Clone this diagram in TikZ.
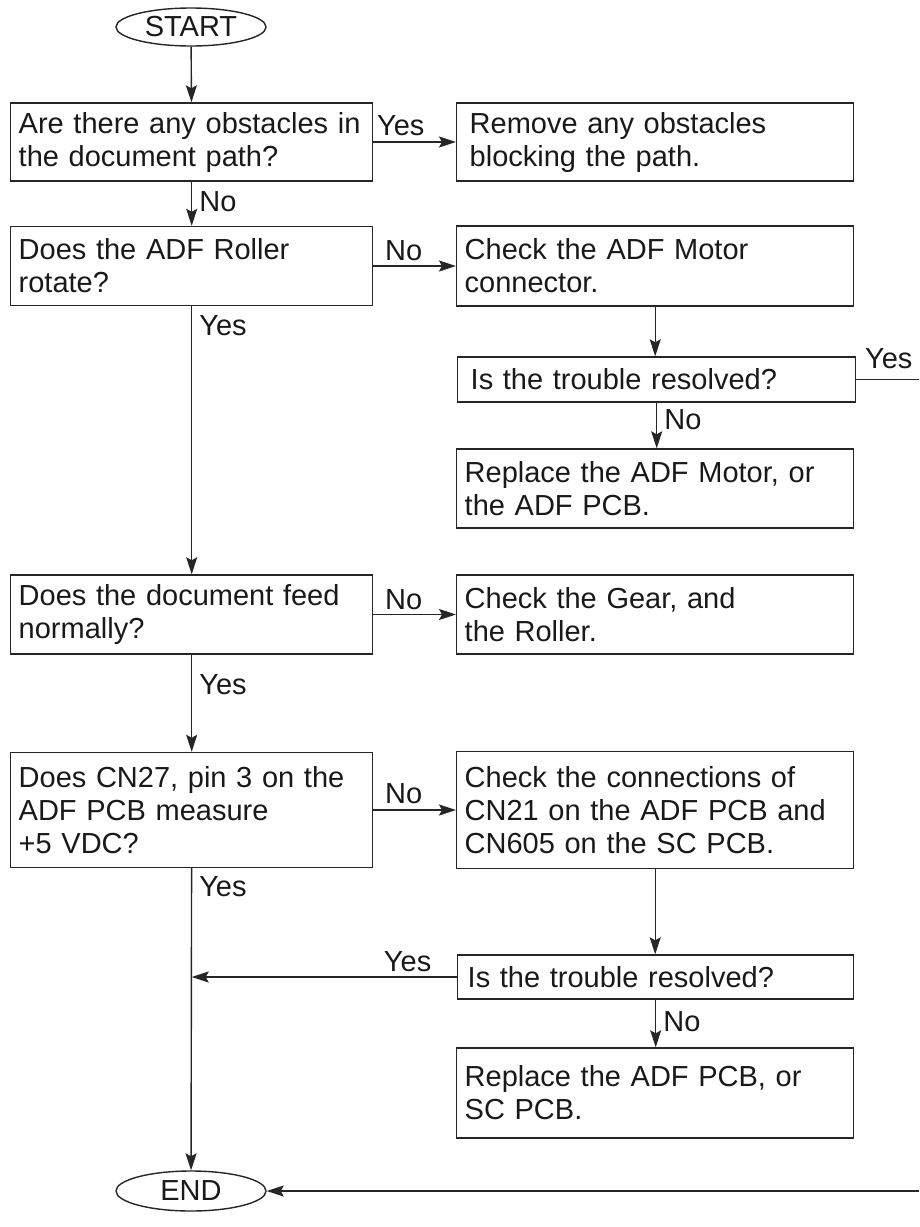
\documentclass[tikz,border=0pt]{standalone}
\usepackage{fontspec}
\setmainfont{Liberation Sans}
\usetikzlibrary{
  arrows.meta,
  positioning,
  shapes.geometric
}

\begin{document}
\begin{tikzpicture}[
  x=1pt, y=-1pt,
  >={Stealth[length=17pt, width=11pt, inset=3pt]},
  every node/.style={font=\fontsize{29pt}{33pt}\selectfont, text=black!90},
  flow/.style={line width=1.4pt, draw=black!85},
  qbox/.style={draw=black!85, line width=1.4pt, anchor=west, align=left,
    inner xsep=8pt, inner ysep=0pt, text width=346pt, minimum height=#1},
  abox/.style={qbox=#1, text width=381pt},
  term/.style={ellipse, draw=black!85, line width=1.4pt,
    minimum width=150pt, minimum height=38pt, inner sep=0pt},
  hlabel/.style={anchor=base west, inner sep=0pt, pos=0},
  vlabel/.style={anchor=north west, inner sep=0pt, pos=0, xshift=7pt}
]

  \useasboundingbox (0,0) rectangle (919,1227);

  %% ===== LEFT COLUMN (questions) =====
  \node[term] (start) at (191,27) {START};
  \node[qbox=78pt] (obst) at (10,142)
    {Are there any obstacles in\\the document path?};
  \node[qbox=79pt] (roller) at (10,266)
    {Does the ADF Roller\\rotate?};
  \node[qbox=79pt] (feed) at (10,614.5)
    {Does the document feed\\normally?};
  \node[qbox=115pt] (cn27) at (10,810)
    {Does CN27, pin 3 on the\\ADF PCB measure\\+5 VDC?};
  \node[term, minimum height=40pt] (end) at (191,1191) {END};

  %% ===== RIGHT COLUMN (actions) =====
  \node[abox=78pt, inner xsep=13pt, text width=371pt] (remove) at (456,142)
    {Remove any obstacles\\blocking the path.};
  \node[abox=80pt] (motor) at (456,266)
    {Check the ADF Motor\\connector.};
  \node[abox=45pt, inner xsep=13pt, text width=372pt] (res1) at (457,379.5)
    {Is the trouble resolved?};
  \node[abox=79pt] (repmotor) at (456,488.5)
    {Replace the ADF Motor, or\\the ADF PCB.};
  \node[abox=79pt] (gear) at (456,614.5)
    {Check the Gear, and\\the Roller.};
  \node[abox=117pt] (conn) at (456,810)
    {Check the connections of\\CN21 on the ADF PCB and\\CN605 on the SC PCB.};
  \node[abox=44pt, inner xsep=10pt, text width=376pt] (res2) at (457,977)
    {Is the trouble resolved?};
  \node[abox=90pt] (repadf) at (456,1093)
    {Replace the ADF PCB, or\\SC PCB.};

  % Free ends on the right edge and the join on the main line
  \coordinate (rtop) at (919,0);
  \coordinate (rbot) at (919,1191);
  \coordinate (join) at (cn27.south |- res2.west);

  %% ===== MAIN LINE =====
  \draw[flow,->] (start) -- (obst);
  \draw[flow,->] (obst) -- node[vlabel, yshift=-9pt] {No} (roller);
  \draw[flow,->] (roller) -- node[vlabel, yshift=-9pt] {Yes} (feed);
  \draw[flow,->] (feed) -- node[vlabel, yshift=-19pt] {Yes} (cn27);
  \draw[flow,->] (cn27) -- node[vlabel, yshift=-8pt] {Yes} (end);

  %% ===== BRANCHES =====
  \draw[flow,->] (obst) -- node[hlabel, xshift=3pt, yshift=7pt] {Yes} (remove);
  \draw[flow,->] (roller) -- node[hlabel, xshift=11pt, yshift=6pt] {No} (motor);
  \draw[flow,->] (feed) -- node[hlabel, xshift=11pt, yshift=5pt] {No} (gear);
  \draw[flow,->] (cn27) -- node[hlabel, xshift=11pt, yshift=7pt] {No} (conn);

  \draw[flow,->] (motor.south) -- (motor.south |- res1.north);
  \draw[flow,->] (res1.south) -- node[vlabel, yshift=-6pt] {No}
    (res1.south |- repmotor.north);
  \draw[flow] (res1.east) -- node[hlabel, xshift=8pt, yshift=11pt] {Yes}
    (res1.east -| rtop);

  \draw[flow,->] (conn.south) -- (conn.south |- res2.north);
  \draw[flow,->] (res2.south) -- node[vlabel, yshift=-11pt] {No}
    (res2.south |- repadf.north);
  \draw[flow,->] (res2.west) -- node[anchor=base east, inner sep=0pt, pos=0,
    xshift=-25pt, yshift=6pt] {Yes} (join);

  \draw[flow,->] (rbot) -- (end.east);

\end{tikzpicture}
\end{document}
